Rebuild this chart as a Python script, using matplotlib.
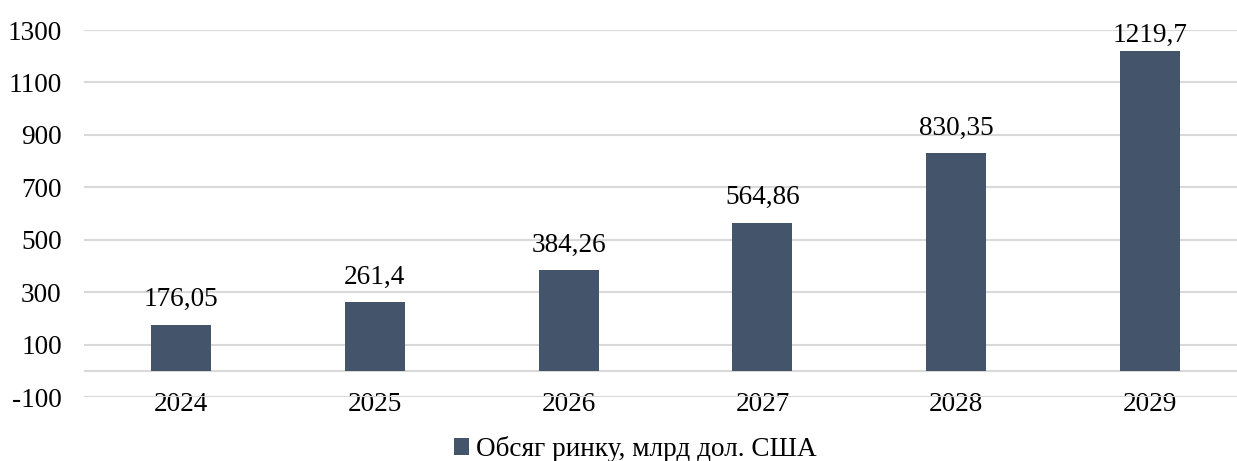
import matplotlib
matplotlib.use("Agg")
import matplotlib.pyplot as plt
import numpy as np

years = ["2024", "2025", "2026", "2027", "2028", "2029"]
values = [176.05, 261.4, 384.26, 564.86, 830.35, 1219.7]
value_labels = ["176,05", "261,4", "384,26", "564,86", "830,35", "1219,7"]
yticks = [-100, 100, 300, 500, 700, 900, 1100, 1300]
series_name = "Обсяг ринку, млрд дол. США"

plt.rcParams["font.family"] = ["Liberation Serif", "DejaVu Serif"]

bar_color = "#44546a"
grid_color = "#d9d9d9"
fs = 19.6

W, H = 1237, 461
fig = plt.figure(figsize=(W / 100, H / 100), dpi=100)
# plot area in pixels: x 84..1247, y 30..397
ax = fig.add_axes([84 / W, (H - 397) / H, (1247 - 84) / W, (397 - 30) / H])
ax.spines["bottom"].set_position(("data", 0))

x = np.arange(len(years))
bars = ax.bar(x, values, width=0.31, color=bar_color, zorder=3,
              label=series_name)

for xi, v, lab in zip(x, values, value_labels):
    # top label gets pushed down to stay inside the plot area
    off = 9 if v < 1200 else 2
    ax.annotate(lab, (xi, v), xytext=(0, off), textcoords="offset points",
                ha="center", va="bottom", fontsize=fs, color="#000000",
                zorder=4)

ax.set_xlim(-0.5, len(years) - 0.5)
ax.set_ylim(-100, 1300)
ax.set_yticks(yticks)
ax.set_yticklabels([str(t) for t in yticks], fontsize=fs)
ax.yaxis.grid(True, color=grid_color, linewidth=1.5, zorder=0)
ax.axhline(0, color=grid_color, linewidth=1.5, zorder=1)

ax.set_xticks(x)
ax.set_xticklabels(years, fontsize=fs)
for s in ax.spines.values():
    s.set_visible(False)
ax.tick_params(axis="both", length=0)
ax.tick_params(axis="x", pad=15)
ax.tick_params(axis="y", pad=16)

fig.legend(handles=[bars], labels=[series_name], loc="center",
           bbox_to_anchor=(635 / W, 1 - 449 / H), frameon=False,
           fontsize=fs, handlelength=0.55, handleheight=0.55,
           handletextpad=0.25, borderpad=0)

fig.savefig("out.png", dpi=100)
